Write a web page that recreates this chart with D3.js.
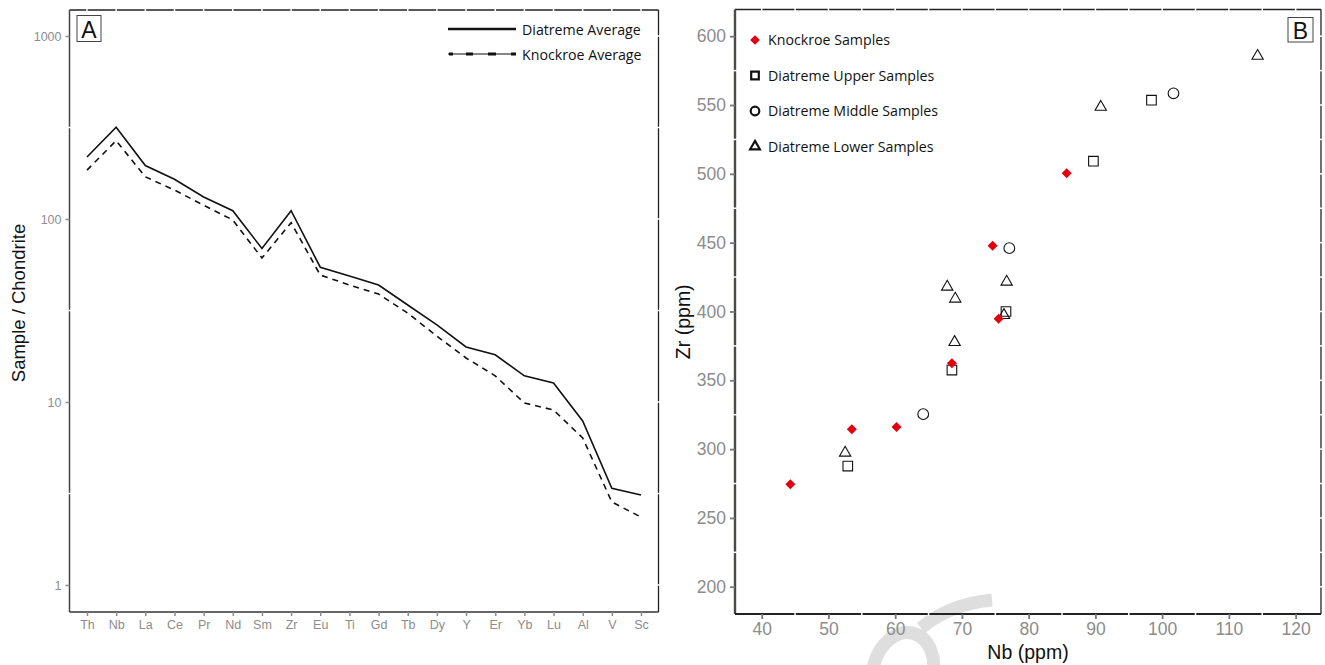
<!DOCTYPE html>
<html>
<head>
<meta charset="utf-8">
<script src="https://cdn.jsdelivr.net/npm/d3@7"></script>
<style>
  body { margin: 0; background: #fff; }
  svg { display: block; }
</style>
</head>
<body>
<div id="chart"></div>
<script>
// Panel A data: chondrite-normalised averages
var elements = ["Th", "Nb", "La", "Ce", "Pr", "Nd", "Sm", "Zr", "Eu", "Ti", "Gd", "Tb", "Dy", "Y", "Er", "Yb", "Lu", "Al", "V", "Sc"];
var diatremeAvg = [218, 317, 196, 165, 132, 111, 69, 111, 54.5, 48.8, 43.6, 33.9, 26.4, 20.0, 18.1, 13.9, 12.7, 7.88, 3.38, 3.10];
var knockroeAvg = [185, 268, 170, 144, 119, 98.8, 61.2, 95.5, 49.4, 43.6, 38.9, 30.6, 22.9, 17.4, 13.9, 9.88, 9.04, 6.36, 2.84, 2.35];
var logTicks = [1, 10, 100, 1000];

// Panel B data: Nb vs Zr (ppm)
var knockroeNb = [44.3, 53.5, 60.2, 68.5, 74.6, 75.5, 85.7];
var knockroeZr = [274.5, 314.5, 316.0, 362.3, 447.7, 394.7, 500.5];
var upperNb = [52.9, 68.5, 76.6, 89.7, 98.4];
var upperZr = [287.7, 357.4, 400.0, 509.2, 553.5];
var middleNb = [64.2, 77.1, 101.7];
var middleZr = [325.4, 446.0, 558.5];
var lowerNb = [52.5, 67.8, 69.0, 68.9, 76.7, 76.3, 90.8, 114.3];
var lowerZr = [297.3, 417.9, 409.2, 377.7, 421.5, 397.3, 548.6, 585.6];
var nbTicks = [40, 50, 60, 70, 80, 90, 100, 110, 120];
var zrTicks = [200, 250, 300, 350, 400, 450, 500, 550, 600];

var svg = d3.select("#chart").append("svg")
    .attr("width", 1325)
    .attr("height", 665);

var tickGray = "#8c8c8c";
var legendFont = "'Open Sans', sans-serif";
var axisFont = "'Liberation Sans', Arial, sans-serif";

// faint watermark behind everything
var wm = svg.append("g").attr("fill", "none").attr("stroke", "#dedede").attr("stroke-width", 13);
wm.append("ellipse").attr("cx", 903).attr("cy", 672).attr("rx", 30).attr("ry", 40)
    .attr("transform", "rotate(15,903,672)");
wm.append("path").attr("d", "M921,628 Q950,604 992,600");

// ---------------- Panel A ----------------
var a = { left: 69.5, right: 658.5, top: 10, bottom: 612 };

var xA = d3.scalePoint()
    .domain(elements)
    .range([a.left, a.right])
    .padding(0.6);

var yA = d3.scaleLog()
    .domain([0.712, 1387])
    .range([a.bottom, a.top]);

var gA = svg.append("g");

// border top & right
gA.append("line").attr("x1", a.left).attr("x2", a.right).attr("y1", a.top).attr("y2", a.top)
    .attr("stroke", "#222").attr("stroke-width", 1.3);
gA.append("line").attr("x1", a.right).attr("x2", a.right).attr("y1", a.top).attr("y2", a.bottom)
    .attr("stroke", "#222").attr("stroke-width", 1.3);

// white notches on top/right border
gA.selectAll(".topnotch").data(elements).enter().append("line")
    .attr("x1", d => xA(d)).attr("x2", d => xA(d))
    .attr("y1", a.top - 2).attr("y2", a.top + 2)
    .attr("stroke", "#fff").attr("stroke-width", 1.5);
var minorLog = [Math.sqrt(10), Math.sqrt(1000), Math.sqrt(100000)];
gA.selectAll(".rnotch").data(logTicks.concat(minorLog)).enter().append("line")
    .attr("x1", a.right - 2).attr("x2", a.right + 2)
    .attr("y1", d => yA(d)).attr("y2", d => yA(d))
    .attr("stroke", "#fff").attr("stroke-width", 1.5);

// left axis
var axA = gA.append("g")
    .attr("transform", `translate(${a.left},0)`)
    .call(d3.axisLeft(yA).tickValues(logTicks).tickFormat(d3.format("d")).tickSize(4).tickPadding(4));
axA.select(".domain").attr("stroke", "#444").attr("stroke-width", 1.5).attr("d", `M0,${a.top}V${a.bottom}`);
axA.selectAll(".tick line").attr("stroke", tickGray).attr("stroke-width", 1.5);
axA.selectAll(".tick text").attr("fill", tickGray).style("font-family", axisFont).style("font-size", "12.5px");
gA.selectAll(".lnotch").data(minorLog).enter().append("line")
    .attr("x1", a.left - 2).attr("x2", a.left + 2)
    .attr("y1", d => yA(d)).attr("y2", d => yA(d))
    .attr("stroke", "#fff").attr("stroke-width", 1.5);

// bottom axis
var bxA = gA.append("g")
    .attr("transform", `translate(0,${a.bottom})`)
    .call(d3.axisBottom(xA).tickSize(4).tickPadding(4));
bxA.select(".domain").attr("stroke", "#333").attr("stroke-width", 1.5).attr("d", `M${a.left},0H${a.right}`);
bxA.selectAll(".tick line").attr("stroke", tickGray).attr("stroke-width", 1.5);
bxA.selectAll(".tick text").attr("fill", tickGray).style("font-family", axisFont).style("font-size", "12.5px");

// lines
var lineA = d3.line()
    .x((d, i) => xA(elements[i]))
    .y(d => yA(d));
gA.append("path").datum(diatremeAvg).attr("d", lineA)
    .attr("fill", "none").attr("stroke", "#111").attr("stroke-width", 1.6);
gA.append("path").datum(knockroeAvg).attr("d", lineA)
    .attr("fill", "none").attr("stroke", "#111").attr("stroke-width", 1.6)
    .attr("stroke-dasharray", "6,5");

// y title
svg.append("text")
    .attr("transform", `translate(25,${(a.top + a.bottom) / 2 - 8}) rotate(-90)`)
    .attr("text-anchor", "middle")
    .style("font-family", axisFont).style("font-size", "18.5px").attr("fill", "#111")
    .text("Sample / Chondrite");

// panel label A
gA.append("rect").attr("x", 77).attr("y", 15.5).attr("width", 24).attr("height", 26)
    .attr("fill", "none").attr("stroke", "#444").attr("stroke-width", 1);
gA.append("text").attr("x", 89).attr("y", 37.5).attr("text-anchor", "middle")
    .style("font-family", axisFont).style("font-size", "23px").attr("fill", "#111").text("A");

// legend A
var legA = gA.append("g");
legA.append("line").attr("x1", 448).attr("x2", 516).attr("y1", 29).attr("y2", 29)
    .attr("stroke", "#111").attr("stroke-width", 2.6);
legA.append("line").attr("x1", 448).attr("x2", 516).attr("y1", 54).attr("y2", 54)
    .attr("stroke", "#111").attr("stroke-width", 1.2);
legA.append("line").attr("x1", 449).attr("x2", 516).attr("y1", 54).attr("y2", 54)
    .attr("stroke", "#111").attr("stroke-width", 3).attr("stroke-dasharray", "4,13,7,15,8,15,5");
legA.append("text").attr("x", 522).attr("y", 34.5)
    .style("font-family", legendFont).style("font-size", "14.2px").attr("fill", "#111").text("Diatreme Average");
legA.append("text").attr("x", 522).attr("y", 59.5)
    .style("font-family", legendFont).style("font-size", "14.2px").attr("fill", "#111").text("Knockroe Average");

// ---------------- Panel B ----------------
var b = { left: 735, right: 1321, top: 9.5, bottom: 614 };

var xB = d3.scaleLinear().domain([36, 123.8]).range([b.left, b.right]);
var yB = d3.scaleLinear().domain([180.2, 619.4]).range([b.bottom, b.top]);

var gB = svg.append("g");

gB.append("line").attr("x1", b.left).attr("x2", b.right).attr("y1", b.top).attr("y2", b.top)
    .attr("stroke", "#222").attr("stroke-width", 1.3);
gB.append("line").attr("x1", b.right).attr("x2", b.right).attr("y1", b.top).attr("y2", b.bottom)
    .attr("stroke", "#222").attr("stroke-width", 1.3);

var nbAll = d3.range(40, 125, 5);
var zrAll = d3.range(200, 625, 25);
var nbMinor = nbAll.filter(d => d % 10 !== 0);
var zrMinor = zrAll.filter(d => d % 50 !== 0);

gB.selectAll(".tn").data(nbAll).enter().append("line")
    .attr("x1", d => xB(d)).attr("x2", d => xB(d))
    .attr("y1", b.top - 2).attr("y2", b.top + 2)
    .attr("stroke", "#fff").attr("stroke-width", 1.5);
gB.selectAll(".rn").data(zrAll).enter().append("line")
    .attr("x1", b.right - 2).attr("x2", b.right + 2)
    .attr("y1", d => yB(d)).attr("y2", d => yB(d))
    .attr("stroke", "#fff").attr("stroke-width", 1.5);

var axB = gB.append("g")
    .attr("transform", `translate(${b.left},0)`)
    .call(d3.axisLeft(yB).tickValues(zrTicks).tickSize(5).tickPadding(4));
axB.select(".domain").attr("stroke", "#4a4a44").attr("stroke-width", 2.4).attr("d", `M0,${b.top}V${b.bottom}`);
axB.selectAll(".tick line").attr("stroke", "#777").attr("stroke-width", 1.8);
axB.selectAll(".tick text").attr("fill", tickGray).style("font-family", axisFont).style("font-size", "17.5px");

var bxB = gB.append("g")
    .attr("transform", `translate(0,${b.bottom})`)
    .call(d3.axisBottom(xB).tickValues(nbTicks).tickSize(5).tickPadding(4));
bxB.select(".domain").attr("stroke", "#222").attr("stroke-width", 1.8).attr("d", `M${b.left},0H${b.right}`);
bxB.selectAll(".tick line").attr("stroke", "#777").attr("stroke-width", 1.8);
bxB.selectAll(".tick text").attr("fill", tickGray).style("font-family", axisFont).style("font-size", "17.5px");

gB.selectAll(".ln").data(zrMinor).enter().append("line")
    .attr("x1", b.left - 2).attr("x2", b.left + 2)
    .attr("y1", d => yB(d)).attr("y2", d => yB(d))
    .attr("stroke", "#fff").attr("stroke-width", 1.5);
gB.selectAll(".bn").data(nbMinor).enter().append("line")
    .attr("x1", d => xB(d)).attr("x2", d => xB(d))
    .attr("y1", b.bottom - 2).attr("y2", b.bottom + 2)
    .attr("stroke", "#fff").attr("stroke-width", 1.5);

// titles
svg.append("text")
    .attr("transform", `translate(690,${(b.top + b.bottom) / 2 + 10}) rotate(-90)`)
    .attr("text-anchor", "middle")
    .style("font-family", axisFont).style("font-size", "19.5px").attr("fill", "#111")
    .text("Zr (ppm)");
svg.append("text")
    .attr("x", (b.left + b.right) / 2).attr("y", 659)
    .attr("text-anchor", "middle")
    .style("font-family", axisFont).style("font-size", "19.5px").attr("fill", "#111")
    .text("Nb (ppm)");

// symbols
var sym = {
  diamond: d3.symbol().type(d3.symbolDiamond2).size(64),
  square: d3.symbol().type(d3.symbolSquare).size(92),
  circle: d3.symbol().type(d3.symbolCircle).size(90),
  triangle: d3.symbol().type(d3.symbolTriangle2).size(92)
};

function pts(nb, zr) { return nb.map((v, i) => [v, zr[i]]); }

function drawSeries(data, kind, fill, stroke, sw) {
  gB.append("g").selectAll("path").data(data).enter().append("path")
    .attr("d", sym[kind])
    .attr("transform", d => `translate(${xB(d[0])},${yB(d[1])})`)
    .attr("fill", fill).attr("stroke", stroke).attr("stroke-width", sw);
}

drawSeries(pts(lowerNb, lowerZr), "triangle", "none", "#111", 1.1);
drawSeries(pts(middleNb, middleZr), "circle", "none", "#111", 1.1);
drawSeries(pts(upperNb, upperZr), "square", "none", "#111", 1.1);
drawSeries(pts(knockroeNb, knockroeZr), "diamond", "#e3000f", "none", 0);

// panel label B
gB.append("rect").attr("x", 1288).attr("y", 17.5).attr("width", 25).attr("height", 24.5)
    .attr("fill", "none").attr("stroke", "#444").attr("stroke-width", 1);
gB.append("text").attr("x", 1300.5).attr("y", 39).attr("text-anchor", "middle")
    .style("font-family", axisFont).style("font-size", "23px").attr("fill", "#111").text("B");

// legend B
var legendNames = ["Knockroe Samples", "Diatreme Upper Samples", "Diatreme Middle Samples", "Diatreme Lower Samples"];
var legendKinds = ["diamond", "square", "circle", "triangle"];
var legB = gB.append("g");
legendNames.forEach(function(name, i) {
  var yy = 40 + i * 35.5;
  var k = legendKinds[i];
  var s = d3.symbol().type(k === "diamond" ? d3.symbolDiamond2 : k === "square" ? d3.symbolSquare : k === "circle" ? d3.symbolCircle : d3.symbolTriangle2)
      .size(k === "diamond" ? 60 : k === "triangle" ? 68 : 58);
  legB.append("path").attr("d", s)
    .attr("transform", `translate(755,${yy})`)
    .attr("fill", k === "diamond" ? "#e3000f" : "none")
    .attr("stroke", k === "diamond" ? "none" : "#111")
    .attr("stroke-width", 2.2);
  legB.append("text").attr("x", 768).attr("y", yy + 5)
    .style("font-family", legendFont).style("font-size", "14.2px").attr("fill", "#111")
    .text(name);
});
</script>
</body>
</html>
